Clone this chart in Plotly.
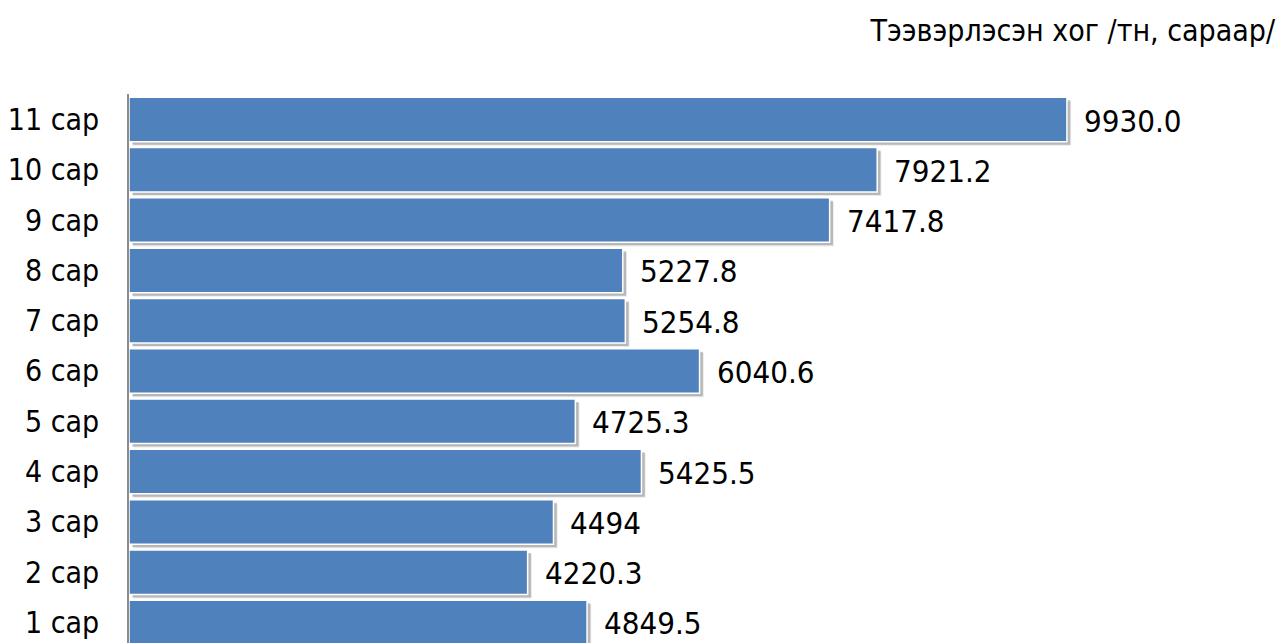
import plotly.graph_objects as go

months = ["1 сар", "2 сар", "3 сар", "4 сар", "5 сар", "6 сар",
          "7 сар", "8 сар", "9 сар", "10 сар", "11 сар"]
values = [4849.5, 4220.3, 4494, 5425.5, 4725.3, 6040.6,
          5254.8, 5227.8, 7417.8, 7921.2, 9930.0]
value_labels = ["4849.5", "4220.3", "4494", "5425.5", "4725.3", "6040.6",
                "5254.8", "5227.8", "7417.8", "7921.2", "9930.0"]
title_text = "Тээвэрлэсэн хог /тн, сараар/"

FONT = "DejaVu Sans Condensed, DejaVu Sans, sans-serif"
BAR_W = 0.885
SH_DY = 0.06   # shadow offset along category axis
SH_DX = 35     # shadow offset along value axis

fig = go.Figure()

# soft shadow layers
fig.add_trace(go.Bar(
    y=months, x=values, orientation="h", base=SH_DX + 10,
    width=BAR_W, offset=-BAR_W / 2 - SH_DY - 0.02,
    marker=dict(color="rgba(0,0,0,0.08)", line=dict(width=0)),
    hoverinfo="skip", showlegend=False))
fig.add_trace(go.Bar(
    y=months, x=values, orientation="h", base=SH_DX,
    width=BAR_W, offset=-BAR_W / 2 - SH_DY,
    marker=dict(color="rgba(0,0,0,0.22)", line=dict(width=0)),
    hoverinfo="skip", showlegend=False))

# main bars
fig.add_trace(go.Bar(
    y=months, x=values, orientation="h",
    width=BAR_W, offset=-BAR_W / 2,
    marker=dict(color="#4F81BD", line=dict(color="white", width=1.5)),
    showlegend=False))

for m, v, t in zip(months, values, value_labels):
    fig.add_annotation(x=v, y=m, text=t, showarrow=False, xanchor="left",
                       yanchor="middle", xshift=15, yshift=-1,
                       font=dict(family=FONT, size=31, color="black"))

fig.update_layout(
    width=1288, height=643,
    margin=dict(l=121, r=128, t=86, b=0, pad=0, autoexpand=False),
    paper_bgcolor="white", plot_bgcolor="white",
    barmode="overlay",
    font=dict(family=FONT, size=31, color="black"),
    title=dict(text=title_text, xref="container", yref="container",
               x=1267 / 1288, xanchor="right", y=1 - 22 / 643, yanchor="middle",
               font=dict(family=FONT, size=30, color="black")),
    xaxis=dict(range=[0, 11000], showgrid=False, zeroline=False,
               showticklabels=False, showline=False, ticks=""),
    yaxis=dict(type="category", categoryorder="array", categoryarray=months,
               range=[-0.567, 10.507], showgrid=False, zeroline=False,
               showline=True, linecolor="#8c8c8c", linewidth=1.5,
               ticks="outside", ticklen=22, tickcolor="rgba(0,0,0,0)",
               tickfont=dict(family=FONT, size=30, color="black")),
)

fig.write_html("out.html")
